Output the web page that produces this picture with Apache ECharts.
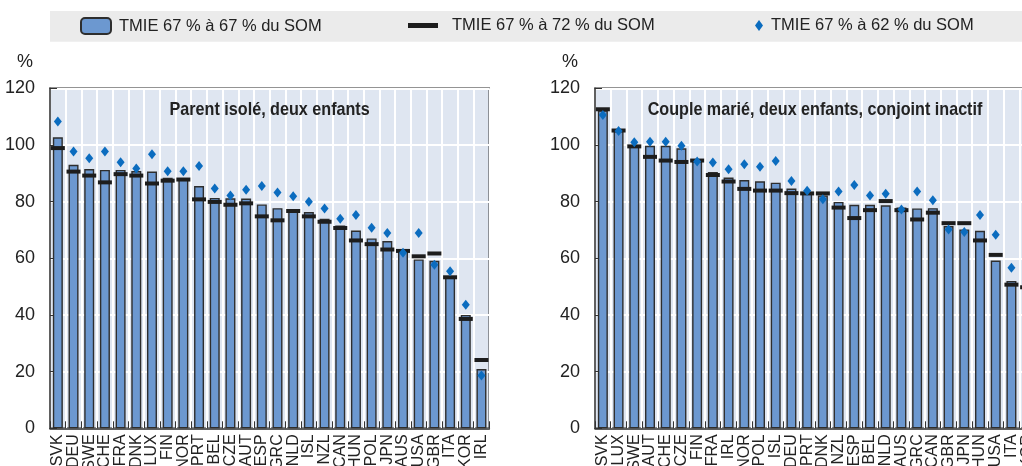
<!DOCTYPE html>
<html>
<head>
<meta charset="utf-8">
<script src="https://cdn.jsdelivr.net/npm/echarts@6/dist/echarts.min.js"></script>
<style>
  html, body { margin: 0; padding: 0; background: #ffffff; }
  #chart { width: 1022px; height: 466px; }
</style>
</head>
<body>
<div id="chart"></div>
<script>
// Series names (legend)
const NAME_67 = 'TMIE 67 % à 67 % du SOM';
const NAME_72 = 'TMIE 67 % à 72 % du SOM';
const NAME_62 = 'TMIE 67 % à 62 % du SOM';

// Panel titles
const TITLE_LONE = 'Parent isolé, deux enfants';
const TITLE_COUPLE = 'Couple marié, deux enfants, conjoint inactif';

// Y axis ticks
const Y_MIN = 0;
const Y_MAX = 120;
const Y_STEP = 20;

// Lone parent, two children
const loneCountries = ['SVK','DEU','SWE','CHE','FRA','DNK','LUX','FIN','NOR','PRT','BEL','CZE','AUT','ESP','GRC','NLD','ISL','NZL','CAN','HUN','POL','JPN','AUS','USA','GBR','ITA','KOR','IRL'];
const lone67 = [102.7, 93.0, 91.5, 91.2, 91.2, 90.8, 90.6, 88.4, 88.3, 85.5, 81.3, 81.2, 81.1, 79.0, 77.7, 77.3, 76.3, 74.0, 71.6, 69.8, 67.0, 66.1, 63.1, 59.6, 59.1, 53.7, 40.0, 20.9];
const lone72 = [98.9, 90.6, 89.2, 86.8, 89.7, 89.2, 86.4, 87.4, 87.8, 80.8, 79.9, 78.9, 79.4, 74.8, 73.4, 76.7, 74.8, 72.9, 70.7, 66.3, 65.0, 63.1, 62.6, 60.7, 61.7, 53.3, 38.6, 24.1];
const lone62 = [108.3, 97.7, 95.3, 97.7, 93.9, 91.7, 96.7, 90.7, 90.7, 92.6, 84.6, 82.2, 84.2, 85.5, 83.2, 81.9, 80.0, 77.6, 74.0, 75.3, 70.8, 68.9, 62.0, 68.9, 57.7, 55.4, 43.6, 18.6];

// Married couple, two children, inactive spouse
const coupleCountries = ['SVK','LUX','SWE','AUT','CHE','CZE','FIN','FRA','IRL','NOR','POL','ISL','DEU','PRT','DNK','NZL','ESP','BEL','NLD','AUS','GRC','CAN','GBR','JPN','HUN','USA','ITA','KOR'];
const couple67 = [112.2, 105.3, 99.9, 99.7, 99.7, 98.8, 95.0, 90.5, 88.5, 87.6, 87.2, 86.7, 84.6, 83.2, 82.2, 79.9, 78.9, 78.9, 78.7, 77.9, 77.6, 77.7, 71.4, 70.2, 69.7, 59.2, 52.0, 51.5];
const couple72 = [112.6, 105.1, 99.5, 95.8, 94.5, 94.0, 94.5, 89.4, 87.1, 84.5, 83.9, 83.9, 83.0, 82.9, 82.9, 77.9, 74.2, 77.0, 80.2, 77.0, 73.7, 76.1, 72.4, 72.4, 66.3, 61.2, 50.7, 49.8];
const couple62 = [110.6, 104.9, 101.0, 101.1, 101.1, 99.7, 94.2, 93.8, 91.4, 93.2, 92.3, 94.3, 87.3, 83.8, 80.8, 83.6, 85.9, 82.2, 82.8, 77.2, 83.6, 80.5, 70.2, 69.3, 75.3, 68.3, 56.7, 56.6];

// Styling
const FONT = "'Liberation Sans', Arial, sans-serif";
const TEXT = '#222222';
const FRAME = '#2b2b2b';
const PLOT_BG = '#dfe6f1';
const BAR_FILL = '#6c98d0';
const MARK_DARK = '#1d1d1d';
const DIAMOND = '#0b6cbf';

// Panel layout (pixels)
const PLOT_TOP = 88.3;
const PLOT_H = 340;
const TITLE_SCALE = 0.85;   // horizontal squeeze for a condensed bold look
const PANELS = [
  { left: 50, width: 439.3, cats: loneCountries, v67: lone67, v72: lone72, v62: lone62, title: TITLE_LONE },
  { left: 595, width: 440, cats: coupleCountries, v67: couple67, v72: couple72, v62: couple62, title: TITLE_COUPLE }
];

const chart = echarts.init(document.getElementById('chart'), null, { renderer: 'canvas' });

const grids = [], xAxes = [], yAxes = [], series = [], graphics = [];

// Legend band
graphics.push({
  type: 'rect', z: 0,
  shape: { x: 50, y: 11, width: 972, height: 30.7 },
  style: { fill: '#ebebeb' }
});

PANELS.forEach((p, i) => {
  grids.push({
    left: p.left, top: PLOT_TOP, width: p.width, height: PLOT_H,
    show: true, backgroundColor: PLOT_BG, borderColor: FRAME, borderWidth: 1.5,
    outerBoundsMode: 'none'
  });
  xAxes.push({
    type: 'category', gridIndex: i, data: p.cats, boundaryGap: true,
    axisLine: { show: true, lineStyle: { color: FRAME, width: 1.5 } },
    axisTick: { show: true, inside: true, length: 7, lineStyle: { color: '#333', width: 1 } },
    splitLine: { show: true, lineStyle: { color: '#ffffff', width: 2 } },
    axisLabel: { rotate: 90, interval: 0, margin: 6, fontSize: 16, color: TEXT, fontFamily: FONT }
  });
  yAxes.push({
    type: 'value', gridIndex: i, min: Y_MIN, max: Y_MAX, interval: Y_STEP,
    axisLine: { show: true, lineStyle: { color: FRAME, width: 1.5 } },
    axisTick: { show: true, inside: true, length: 7, lineStyle: { color: '#333', width: 1 } },
    splitLine: { show: true, lineStyle: { color: '#ffffff', width: 2 } },
    axisLabel: { margin: 15, fontSize: 18, color: TEXT, fontFamily: FONT }
  });
  series.push({
    name: NAME_67, type: 'bar', xAxisIndex: i, yAxisIndex: i, data: p.v67,
    barWidth: 10, z: 2,
    itemStyle: { color: BAR_FILL, borderColor: '#2e2e2e', borderWidth: 1.4 }
  });
  series.push({
    name: NAME_72, type: 'scatter', xAxisIndex: i, yAxisIndex: i, data: p.v72,
    symbol: 'rect', symbolSize: [14, 4], z: 3,
    itemStyle: { color: MARK_DARK, opacity: 1 }
  });
  series.push({
    name: NAME_62, type: 'scatter', xAxisIndex: i, yAxisIndex: i, data: p.v62,
    symbol: 'diamond', symbolSize: [8, 10], z: 4,
    itemStyle: { color: DIAMOND, opacity: 1 }
  });
  // Panel title, centred over its plot
  graphics.push({
    type: 'text', z: 10,
    x: p.left + p.width / 2, y: 110, scaleX: TITLE_SCALE,
    style: {
      text: p.title, font: "bold 19px " + FONT, fill: TEXT,
      textAlign: 'center', textVerticalAlign: 'middle'
    }
  });
  // Unit label above the value axis
  graphics.push({
    type: 'text', z: 10,
    x: p.left - 17, y: 62,
    style: { text: '%', font: "18px " + FONT, fill: TEXT, textAlign: 'right', textVerticalAlign: 'middle' }
  });
});

const legendText = { fontSize: 16.5, color: TEXT, fontFamily: FONT, padding: [0, 0, 0, 3] };

chart.setOption({
  animation: false,
  backgroundColor: '#ffffff',
  textStyle: { fontFamily: FONT },
  grid: grids,
  xAxis: xAxes,
  yAxis: yAxes,
  series: series,
  graphic: graphics,
  legend: [
    { data: [NAME_67], left: 80, top: 17, padding: 0, itemWidth: 30, itemHeight: 16, selectedMode: false, textStyle: legendText },
    { data: [NAME_72], left: 408, top: 17, padding: 0, itemWidth: 30, itemHeight: 5, selectedMode: false, textStyle: Object.assign({}, legendText, { padding: [0, 0, 0, 9] }) },
    { data: [NAME_62], left: 755, top: 17, padding: 0, itemWidth: 8, itemHeight: 11, selectedMode: false, textStyle: Object.assign({}, legendText, { padding: [0, 0, 0, 3] }) }
  ]
});
</script>
</body>
</html>
